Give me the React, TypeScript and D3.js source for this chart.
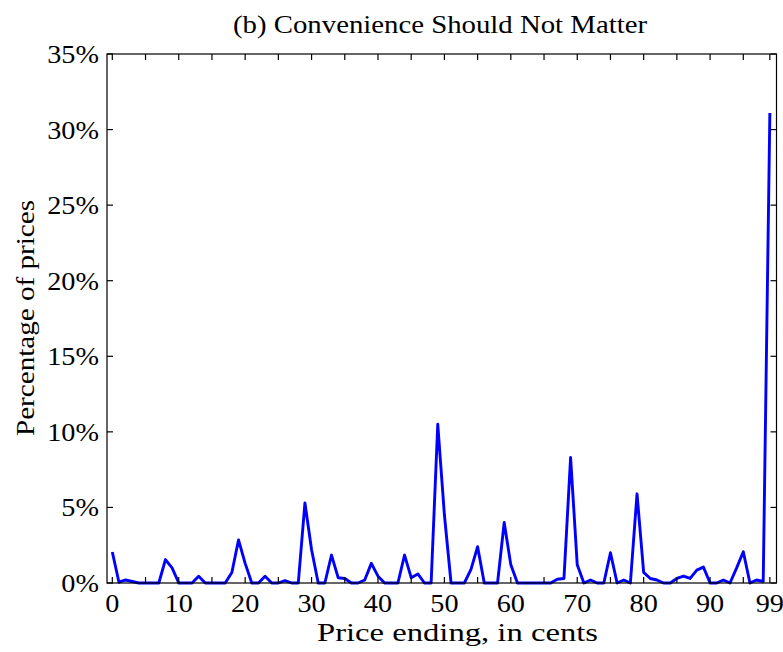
import React from "react";
import * as d3 from "d3";

const cents: number[] = d3.range(0, 100);
const pct: number[] = [
  2.05, 0.05, 0.2, 0.1, 0, 0, 0, 0, 1.55, 1.0,
  0, 0, 0, 0.45, 0, 0, 0, 0, 0.7, 2.85,
  1.3, 0, 0, 0.45, 0, 0, 0.15, 0, 0, 5.3,
  2.2, 0, 0, 1.85, 0.35, 0.3, 0, 0, 0.2, 1.3,
  0.45, 0, 0, 0, 1.85, 0.35, 0.6, 0, 0, 10.5,
  4.5, 0, 0, 0, 0.9, 2.4, 0, 0, 0, 4.0,
  1.2, 0, 0, 0, 0, 0, 0, 0.25, 0.3, 8.3,
  1.2, 0, 0.2, 0, 0, 2.0, 0, 0.2, 0, 5.9,
  0.7, 0.3, 0.2, 0, 0, 0.3, 0.46, 0.3, 0.85, 1.05,
  0, 0, 0.2, 0, 1.0, 2.07, 0, 0.2, 0.1, 31.1,
];
const xTicks: number[] = [0, 5, 10, 15, 20, 25, 30, 35, 40, 45, 50, 55, 60, 65, 70, 75, 80, 85, 90, 95, 99];
const xTickLabels: number[] = [0, 10, 20, 30, 40, 50, 60, 70, 80, 90, 99];
const yTicks: number[] = [0, 5, 10, 15, 20, 25, 30, 35];

const title = "(b) Convenience Should Not Matter";
const xTitle = "Price ending, in cents";
const yTitle = "Percentage of prices";

const FONT = "'Liberation Serif', 'Times New Roman', serif";
const FS = 25;
const SX = 1.13;

function T({ x, y, rot = 0, anchor = "middle", children, fs = FS, len }: any) {
  if (len) {
    return (
      <g transform={`translate(${x},${y}) rotate(${rot})`}>
        <text x={0} y={0} textAnchor={anchor} fontFamily={FONT} fontSize={fs} fill="#000"
          textLength={len} lengthAdjust="spacingAndGlyphs">
          {children}
        </text>
      </g>
    );
  }
  return (
    <g transform={`translate(${x},${y}) rotate(${rot}) scale(${SX},1)`}>
      <text x={0} y={0} textAnchor={anchor} fontFamily={FONT} fontSize={fs} fill="#000">
        {children}
      </text>
    </g>
  );
}

export default function App() {
  const W = 783, H = 652;
  const left = 107, right = 776.5, top = 54, bottom = 583;
  const x = d3.scaleLinear().domain([-0.8, 100]).range([left, right]);
  const y = d3.scaleLinear().domain([0, 35]).range([bottom, top]);
  const line = d3.line<number>().x((_, i) => x(cents[i])).y((d) => y(d));
  const tl = 6;
  return (
    <svg width={W} height={H} style={{ position: "absolute", left: 0, top: 0, background: "#fff" }}>
      <rect x={0} y={0} width={W} height={H} fill="#fff" />
      <path d={line(pct) || ""} fill="none" stroke="#0000ff" strokeWidth={2.9} strokeLinejoin="round" />
      <g stroke="#000" strokeWidth={1.2} fill="none">
        <rect x={left} y={top} width={right - left} height={bottom - top} />
        {xTicks.map((t) => (
          <g key={"xt" + t}>
            <line x1={x(t)} x2={x(t)} y1={bottom} y2={bottom - tl} />
            <line x1={x(t)} x2={x(t)} y1={top} y2={top + tl} />
          </g>
        ))}
        {yTicks.map((t) => (
          <g key={"yt" + t}>
            <line x1={left} x2={left + tl} y1={y(t)} y2={y(t)} />
            <line x1={right} x2={right - tl} y1={y(t)} y2={y(t)} />
          </g>
        ))}
      </g>
      {xTickLabels.map((t) => (
        <T key={"xl" + t} x={x(t)} y={612}>{String(t)}</T>
      ))}
      {yTicks.map((t) => (
        <T key={"yl" + t} x={99} y={y(t) + 9} anchor="end">{t + "%"}</T>
      ))}
      <T x={440} y={33} len={414}>{title}</T>
      <T x={317} y={641} anchor="start" len={281}>{xTitle}</T>
      <T x={34} y={318} rot={-90} len={236}>{yTitle}</T>
    </svg>
  );
}
